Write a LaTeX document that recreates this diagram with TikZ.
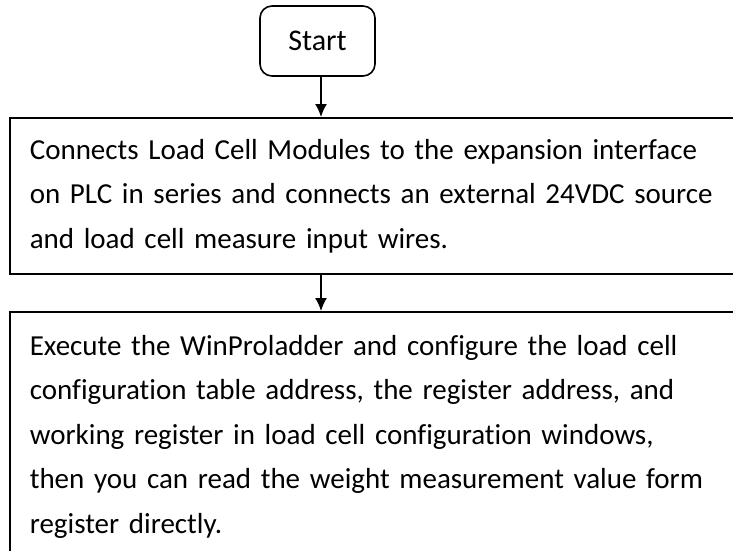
\documentclass[tikz,border=0pt]{standalone}
\usepackage{fontspec}
\setmainfont{Carlito}[Ligatures={NoCommon}]
\usetikzlibrary{arrows.meta}

\begin{document}
\begin{tikzpicture}[x=1pt,y=-1pt,line width=1.6pt,>={Latex[length=13pt,width=12pt]},
  caja/.style={draw,rectangle,anchor=north west,align=left,inner xsep=20pt,
    text width=740pt,font=\fontsize{29}{44.5}\selectfont},
  inicio/.style={draw,rounded corners=12pt,minimum width=115pt,minimum height=70pt,
    font=\fontsize{30}{36}\selectfont}]
  \useasboundingbox (0,0) rectangle (733,550);
  \clip (0,0) rectangle (733,550);
  % inicio
  \node[inicio] (start) at (317.5,41) {Start};
  % paso 1: conexiones
  \node[caja,minimum height=156pt] (paso1) at (9,117)
    {Connects Load Cell Modules to the expansion interface\\
     on PLC in series and connects an external 24VDC source\\
     and load cell measure input wires.};
  % paso 2: configuracion
  \node[caja,minimum height=250pt] (paso2) at (9,311)
    {Execute the WinProladder and configure the load cell\\
     configuration table address, the register address, and\\
     working register in load cell configuration windows,\\
     then you can read the weight measurement value form\\
     register directly.};
  % flechas
  \coordinate (eje) at (321,0);
  \draw[->] (start.south -| eje) -- (paso1.north -| eje);
  \draw[->] (paso1.south -| eje) -- (paso2.north -| eje);
\end{tikzpicture}
\end{document}
